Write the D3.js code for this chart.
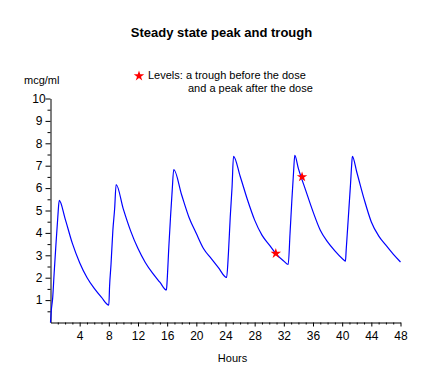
<!DOCTYPE html>
<html><head><meta charset="utf-8">
<script src="https://cdn.jsdelivr.net/npm/d3@7"></script>
<style>
body{margin:0;background:#fff;}
text{font-family:"Liberation Sans",Arial,sans-serif;fill:#000;}
</style></head>
<body>
<svg id="c" width="433" height="381"></svg>
<script>
// ---- data ----
const hours = [0,0.1,0.3,0.5,0.75,1.0,1.2,2,3,4,5,6,7,8,
  8.1,8.3,8.55,8.8,9.0,10,11,12,13,14,15,15.9,
  16.0,16.23,16.46,16.69,16.9,18,19,20,21,22,23,24.15,
  24.4,24.65,24.9,25.1,26,27,28,29,30,31,32,32.6,
  32.85,33.1,33.35,33.5,34,35,36,37,38,39,40,40.45,
  40.55,40.7,40.85,41.0,41.15,41.3,41.4,42,43,44,45,46,47,48];
const conc = [0,0.5,1.1,2.2,3.5,4.7,5.45,4.64,3.53,2.67,2.01,1.52,1.12,0.78,
  1.6,2.6,4.1,5.1,6.16,5.05,4.08,3.3,2.68,2.2,1.8,1.45,
  1.89,3.38,4.71,5.9,6.83,5.68,4.69,3.97,3.29,2.87,2.46,2.01,
  3.08,4.71,6.05,7.42,6.54,5.49,4.57,3.9,3.47,3.04,2.74,2.59,
  3.97,5.46,6.8,7.46,6.87,5.9,4.95,4.12,3.6,3.2,2.86,2.74,
  3.23,3.97,4.71,5.46,6.2,7.02,7.42,6.72,5.52,4.49,3.87,3.45,3.05,2.7];
const levelHours = [30.9, 34.5];
const levelConc = [3.08, 6.5];
const xMajorTicks = [4,8,12,16,20,24,28,32,36,40,44,48];
const yMajorTicks = [1,2,3,4,5,6,7,8,9,10];
const titleText = "Steady state peak and trough";
const yLabel = "mcg/ml";
const xLabel = "Hours";
const legendLines = ["Levels: a trough before the dose", "and a peak after the dose"];

const svg = d3.select("#c");
const x = d3.scaleLinear().domain([0,48]).range([50.5,400.5]);
const y = d3.scaleLinear().domain([0,10]).range([322.5,98.5]);

// title
svg.append("text").attr("x",221.5).attr("y",37).attr("text-anchor","middle")
  .style("font-size","13px").style("font-weight","bold").text(titleText);
// y label
svg.append("text").attr("x",24).attr("y",84).style("font-size","11px").text(yLabel);
// x label
svg.append("text").attr("x",232.5).attr("y",362).attr("text-anchor","middle")
  .style("font-size","11px").text(xLabel);

// legend
const star = d3.symbol().type(d3.symbolStar).size(34);
svg.append("path").attr("d",star()).attr("transform","translate(139,76)").attr("fill","#ff0000");
svg.append("text").attr("x",148).attr("y",79).style("font-size","11px").text(legendLines[0]);
svg.append("text").attr("x",188).attr("y",92).style("font-size","11px").text(legendLines[1]);

// axes
const minorX = d3.range(1,49).filter(v=>v%4!==0);
const minorY = d3.range(0.5,10,1);
const gx = svg.append("g").attr("transform","translate(0,322.5)");
gx.append("g").call(d3.axisBottom(x).tickValues(minorX).tickSize(2).tickSizeOuter(0).tickFormat(""))
  .call(g=>g.select(".domain").remove());
gx.append("g").call(d3.axisBottom(x).tickValues(xMajorTicks).tickSize(4).tickSizeOuter(0).tickFormat(d3.format("d")))
  .call(g=>g.selectAll("text").style("font-size","12px").attr("y",6).attr("dy","0.95em"));
gx.selectAll("text").style("font-family","'Liberation Sans',Arial,sans-serif").attr("fill","#000");

const gy = svg.append("g").attr("transform","translate(50.5,0)");
gy.append("g").call(d3.axisLeft(y).tickValues(minorY).tickSize(3).tickSizeOuter(0).tickFormat(""))
  .call(g=>g.select(".domain").remove());
gy.append("g").call(d3.axisLeft(y).tickValues(yMajorTicks).tickSize(5).tickSizeOuter(0).tickFormat(d3.format("d")))
  .call(g=>g.selectAll("text").style("font-size","12px").attr("text-anchor","middle").attr("x",-11.5));
gy.selectAll("text").style("font-family","'Liberation Sans',Arial,sans-serif").attr("fill","#000");

// curve
const pts = hours.map((h,i)=>[h,conc[i]]);
svg.append("path").datum(pts)
  .attr("d",d3.line().curve(d3.curveMonotoneX).x(d=>x(d[0])).y(d=>y(d[1])))
  .attr("fill","none").attr("stroke","#0000ff").attr("stroke-width",1.2);

// level markers
svg.selectAll(".lv").data(levelHours).enter().append("path")
  .attr("d",star()).attr("fill","#ff0000")
  .attr("transform",(d,i)=>`translate(${x(d)},${y(levelConc[i])})`);
</script>
</body></html>
